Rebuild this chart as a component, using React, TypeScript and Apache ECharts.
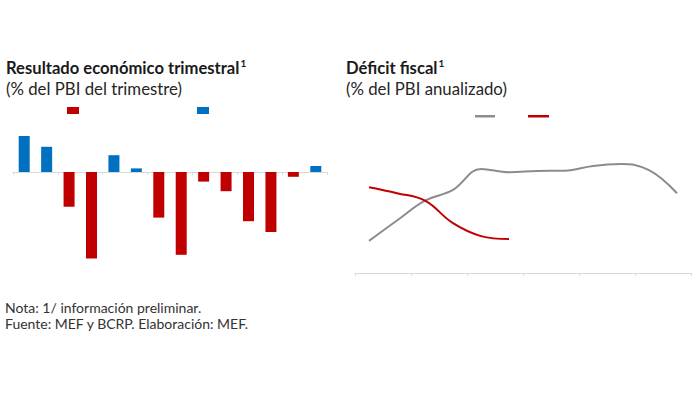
import React, { useEffect, useRef } from "react";
import * as echarts from "echarts";

const quarters = ["I-21", "II-21", "III-21", "IV-21", "I-22", "II-22", "III-22", "IV-22", "I-23", "II-23", "III-23", "IV-23", "I-24", "II-24"];
const resultado = [3.0, 2.1, -2.9, -7.2, 1.4, 0.3, -3.8, -6.9, -0.8, -1.6, -4.1, -5.0, -0.4, 0.5];

const months = ["Ene", "Feb", "Mar", "Abr", "May", "Jun", "Jul", "Ago", "Set", "Oct", "Nov", "Dic"];
const deficit2023 = [1.07, 1.75, 2.41, 2.77, 3.47, 3.36, 3.4, 3.41, 3.57, 3.63, 3.43, 2.66];
const deficit2024 = [2.86, 2.66, 2.41, 1.66, 1.23, 1.13];

const RED = "#C00000";
const BLUE = "#0070C0";
const GRAY = "#8C8C8C";
const FONT = "Lato, 'Open Sans', sans-serif";

export default function App() {
  const ref = useRef<HTMLDivElement>(null);
  useEffect(() => {
    const chart = echarts.init(ref.current!, null, { renderer: "svg" });
    const superavit = resultado.map((v) => (v >= 0 ? v : "-"));
    const deficitQ = resultado.map((v) => (v < 0 ? v : "-"));
    const titleRich = (size: number) => ({
      a: { fontFamily: FONT, fontSize: size, fontWeight: "bold" as const, color: "#1a1a1a", lineHeight: 19 },
      s: { fontFamily: FONT, fontSize: 10, fontWeight: "bold" as const, color: "#1a1a1a", verticalAlign: "top" as const, lineHeight: 19, padding: [0, 0, 8, 1] },
    });
    const sub = { fontFamily: FONT, fontSize: 16.8, fontWeight: "normal" as const, color: "#262626" };
    const note = { fontFamily: FONT, fontSize: 14, fontWeight: "normal" as const, color: "#333333" };
    chart.setOption({
      animation: false,
      backgroundColor: "#ffffff",
      title: [
        { text: "{a|Resultado económico trimestral}{s|1}", left: 6, top: 58, padding: 0, textStyle: { rich: titleRich(16.6) } },
        { text: "(% del PBI del trimestre)", left: 6, top: 80, padding: 0, textStyle: sub },
        { text: "{a|Déficit fiscal}{s|1}", left: 346, top: 58, padding: 0, textStyle: { rich: titleRich(16.6) } },
        { text: "(% del PBI anualizado)", left: 346, top: 80, padding: 0, textStyle: sub },
        { text: "Nota: 1/ información preliminar.", left: 5, top: 300, padding: 0, textStyle: note },
        { text: "Fuente: MEF y BCRP. Elaboración: MEF.", left: 5, top: 316, padding: 0, textStyle: note },
      ],
      legend: [
        { data: ["Déficit"], left: 67, top: 107, padding: 0, icon: "rect", itemWidth: 12, itemHeight: 7, formatter: () => "" },
        { data: ["Superávit"], left: 197, top: 107, padding: 0, icon: "rect", itemWidth: 12, itemHeight: 7, formatter: () => "" },
        { data: ["2023"], left: 475, top: 115, padding: 0, icon: "rect", itemWidth: 20, itemHeight: 2.5, formatter: () => "" },
        { data: ["2024"], left: 528, top: 115, padding: 0, icon: "rect", itemWidth: 21, itemHeight: 2.5, formatter: () => "" },
      ],
      grid: [
        { left: 13, top: 112, width: 314, height: 156, containLabel: false },
        { left: 355, top: 138, width: 336, height: 135, containLabel: false },
      ],
      xAxis: [
        {
          type: "category", gridIndex: 0, data: quarters,
          axisLine: { onZero: true, lineStyle: { color: "#d9d9d9", width: 1 } },
          axisTick: { show: true, length: 3, lineStyle: { color: "#d9d9d9" } },
          axisLabel: { show: false },
        },
        {
          type: "category", gridIndex: 1, data: months,
          axisLine: { lineStyle: { color: "#d9d9d9", width: 1 } },
          axisTick: { show: true, length: 3, lineStyle: { color: "#d9d9d9" } },
          axisLabel: { show: false },
        },
      ],
      yAxis: [
        { type: "value", gridIndex: 0, min: -8, max: 5, show: false, splitLine: { show: false } },
        { type: "value", gridIndex: 1, min: 0, max: 4.5, show: false, splitLine: { show: false } },
      ],
      series: [
        { name: "Déficit", type: "bar", stack: "r", xAxisIndex: 0, yAxisIndex: 0, data: deficitQ, barWidth: 11, itemStyle: { color: RED } },
        { name: "Superávit", type: "bar", stack: "r", xAxisIndex: 0, yAxisIndex: 0, data: superavit, barWidth: 11, itemStyle: { color: BLUE } },
        { name: "2023", type: "line", xAxisIndex: 1, yAxisIndex: 1, data: deficit2023, smooth: 0.4, symbol: "none", lineStyle: { color: GRAY, width: 2 }, itemStyle: { color: GRAY } },
        { name: "2024", type: "line", xAxisIndex: 1, yAxisIndex: 1, data: deficit2024, smooth: 0.4, symbol: "none", lineStyle: { color: RED, width: 2 }, itemStyle: { color: RED } },
      ],
    });
    return () => chart.dispose();
  }, []);
  return <div ref={ref} style={{ position: "fixed", left: 0, top: 0, width: 700, height: 395 }} />;
}
